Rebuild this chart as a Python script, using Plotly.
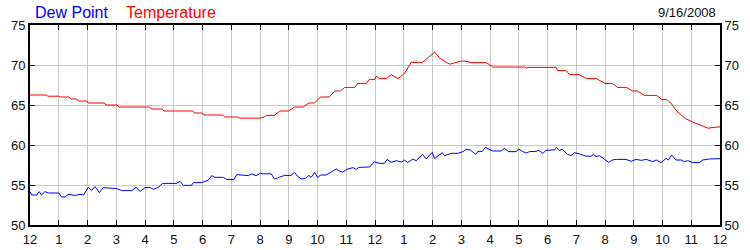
import plotly.graph_objects as go

# Hours since midnight
temp_hours = [0, 0.56, 0.62, 1.0, 1.05, 1.36, 1.42, 1.63, 1.68, 1.98, 2.03, 2.59, 2.64, 3.02, 3.1,
              4.16, 4.22, 4.6, 4.66, 5.66, 5.72, 6.0, 6.05, 6.7, 6.78, 7.23, 7.3, 7.98, 8.16, 8.22,
              8.5, 8.6, 8.7, 9.0, 9.1, 9.2, 9.5, 9.6, 9.7, 9.9, 10.0, 10.1, 10.4, 10.5, 10.6, 10.8,
              10.95, 11.3, 11.4, 11.7, 11.8, 12.0, 12.04, 12.15, 12.4, 12.56, 12.8, 13.03, 13.26,
              13.65, 13.9, 14.07, 14.3, 14.6, 15.0, 15.1, 15.35, 15.87, 16.1, 16.33, 17.2, 17.26,
              17.32, 18.3, 18.35, 18.65, 18.77, 19.1, 19.35, 19.7, 20.0, 20.26, 20.43, 20.75,
              20.96, 21.13, 21.37, 21.8, 21.97, 22.14, 22.3, 22.48, 22.8, 23.04, 23.35, 23.58,
              23.9, 24.0]
temperature = [66.25, 66.25, 66.1, 66.1, 66.0, 66.0, 65.75, 65.75, 65.5, 65.5, 65.25, 65.25, 65.0,
               65.0, 64.75, 64.75, 64.5, 64.5, 64.25, 64.25, 64.0, 64.0, 63.75, 63.75, 63.5, 63.5,
               63.35, 63.35, 63.5, 63.7, 63.7, 64.0, 64.25, 64.25, 64.5, 64.75, 64.75, 65.0, 65.25,
               65.25, 65.6, 66.0, 66.0, 66.4, 66.75, 66.75, 67.2, 67.2, 67.7, 67.7, 68.2, 68.2,
               68.6, 68.3, 68.3, 68.8, 68.3, 68.96, 70.33, 70.33, 71.1, 71.6, 70.7, 70.1, 70.5,
               70.5, 70.3, 70.3, 69.75, 69.75, 69.75, 69.6, 69.7, 69.7, 69.3, 69.3, 68.8, 68.8,
               68.3, 68.3, 67.7, 67.7, 67.2, 67.2, 66.75, 66.75, 66.2, 66.2, 65.7, 65.7, 65.2,
               64.3, 63.3, 62.9, 62.4, 62.1, 62.25, 62.25]

dew_hours = [0, 0.06, 0.23, 0.32, 0.4, 0.52, 0.64, 1.0, 1.1, 1.22, 1.33, 1.57, 1.74, 1.86, 2.03,
             2.14, 2.26, 2.41, 2.55, 3.01, 3.19, 3.42, 3.54, 3.69, 3.83, 4.0, 4.17, 4.29, 4.46,
             4.61, 5.1, 5.22, 5.33, 5.62, 5.68, 5.97, 6.09, 6.2, 6.32, 6.43, 6.72, 6.84, 7.1, 7.19,
             7.6, 7.71, 7.86, 8.02, 8.1, 8.39, 8.5, 8.68, 8.85, 9.08, 9.2, 9.32, 9.43, 9.58, 9.7,
             9.78, 9.9, 10.01, 10.1, 10.3, 10.48, 10.65, 10.74, 10.88, 11.02, 11.23, 11.35, 11.44,
             11.81, 11.98, 12.16, 12.33, 12.42, 12.56, 12.74, 12.91, 13.03, 13.14, 13.32, 13.43,
             13.66, 13.78, 13.99, 14.07, 14.34, 14.42, 14.65, 14.88, 15.06, 15.17, 15.31, 15.5,
             15.58, 15.73, 15.84, 15.98, 16.1, 16.39, 16.5, 16.65, 16.91, 17.0, 17.14, 17.26,
             17.37, 17.6, 17.7, 17.84, 17.95, 18.24, 18.32, 18.41, 18.51, 18.7, 18.82, 18.94,
             19.11, 19.34, 19.52, 19.6, 19.69, 19.81, 19.98, 20.13, 20.25, 20.39, 20.73, 20.91,
             21.08, 21.26, 21.43, 21.66, 21.78, 21.95, 22.13, 22.2, 22.32, 22.47, 22.65, 22.76,
             22.88, 23.05, 23.28, 23.4, 23.63, 23.86, 24.0]
dew_point = [54.17, 53.75, 53.75, 54.17, 53.75, 54.17, 54.0, 54.0, 53.5, 53.5, 53.83, 53.7, 53.83,
             53.75, 54.7, 54.3, 54.8, 54.05, 54.67, 54.55, 54.3, 54.3, 54.3, 54.7, 54.2, 54.67,
             54.7, 54.46, 54.7, 55.2, 55.2, 55.46, 54.96, 54.96, 55.3, 55.3, 55.5, 55.6, 56.17,
             55.96, 55.96, 55.7, 55.7, 56.3, 56.17, 56.4, 56.17, 56.46, 56.4, 56.4, 55.75, 55.96,
             56.2, 56.2, 56.58, 56.04, 55.75, 55.83, 56.2, 55.96, 56.58, 55.9, 56.25, 56.25, 56.6,
             57.0, 56.8, 56.6, 56.96, 57.17, 56.96, 57.2, 57.25, 57.9, 57.7, 57.7, 58.2, 57.83,
             58.04, 57.88, 58.1, 57.83, 58.25, 58.04, 58.83, 58.25, 59.08, 58.3, 59.04, 58.67,
             58.96, 58.96, 59.17, 59.46, 59.4, 58.83, 59.2, 59.2, 59.7, 59.46, 59.25, 59.25,
             59.58, 59.17, 59.17, 59.5, 59.17, 59.0, 59.17, 59.2, 59.33, 58.96, 59.33, 59.4,
             59.67, 59.3, 59.5, 58.8, 58.7, 59.04, 58.9, 58.6, 58.6, 58.83, 58.54, 58.67, 58.25,
             57.83, 58.12, 58.2, 58.2, 57.96, 58.2, 58.08, 58.2, 57.92, 58.12, 57.8, 58.33, 58.12,
             58.75, 58.12, 58.12, 57.92, 58.04, 57.8, 57.8, 58.12, 58.25, 58.33, 58.3]

x_tick_vals = list(range(25))
x_tick_labels = ["12", "1", "2", "3", "4", "5", "6", "7", "8", "9", "10", "11",
                 "12", "1", "2", "3", "4", "5", "6", "7", "8", "9", "10", "11", "12"]
y_tick_vals = [50, 55, 60, 65, 70, 75]
date_label = "9/16/2008"

FONT = "Liberation Sans, Arial, sans-serif"

fig = go.Figure()
fig.add_trace(go.Scatter(x=dew_hours, y=dew_point, mode="lines", name="Dew Point",
                         line=dict(color="#0000ff", width=1), yaxis="y"))
fig.add_trace(go.Scatter(x=temp_hours, y=temperature, mode="lines", name="Temperature",
                         line=dict(color="#ff0000", width=1), yaxis="y2"))

common_y = dict(range=[50, 75], tickvals=y_tick_vals, showgrid=True, gridcolor="#c8c8c8",
                gridwidth=1, ticks="inside", ticklen=5, tickcolor="black", tickwidth=1,
                showline=True, linecolor="black", linewidth=2, zeroline=False, automargin=False,
                tickfont=dict(family=FONT, size=13, color="#111111"), fixedrange=True)

fig.update_layout(
    width=750, height=250,
    margin=dict(l=30, r=30, t=25, b=25, autoexpand=False),
    paper_bgcolor="white", plot_bgcolor="white",
    showlegend=False,
    font=dict(family=FONT, size=13, color="#111111"),
    xaxis=dict(range=[0, 24], tickvals=x_tick_vals, ticktext=x_tick_labels,
               showgrid=True, gridcolor="#c8c8c8", gridwidth=1,
               ticks="inside", ticklen=5, tickcolor="black", tickwidth=1,
               showline=True, linecolor="black", linewidth=2, mirror="ticks",
               zeroline=False, ticklabelstandoff=1, automargin=False,
               tickfont=dict(family=FONT, size=13, color="#111111")),
    yaxis=dict(side="left", **common_y),
    yaxis2=dict(side="right", overlaying="y", **common_y),
    annotations=[
        dict(text="Dew Point", x=33, y=13, xref="paper", yref="paper", showarrow=False,
             font=dict(family=FONT, size=16, color="#0000ff")),
        dict(text="Temperature", x=124, y=13, xref="paper", yref="paper", showarrow=False,
             font=dict(family=FONT, size=16, color="#ff0000")),
        dict(text=date_label, x=718, y=13, xref="paper", yref="paper", showarrow=False,
             font=dict(family=FONT, size=13, color="#111111")),
    ],
)

# position annotations in pixel terms via paper coordinates
pw, ph = 750 - 60, 250 - 50
for ann, anchor in zip(fig.layout.annotations, ["left", "left", "right"]):
    px, py = ann.x, ann.y
    ann.x = (px - 30) / pw
    ann.y = 1 + (25 - py) / ph
    ann.xanchor = anchor
    ann.yanchor = "middle"

fig.write_html("out.html")
